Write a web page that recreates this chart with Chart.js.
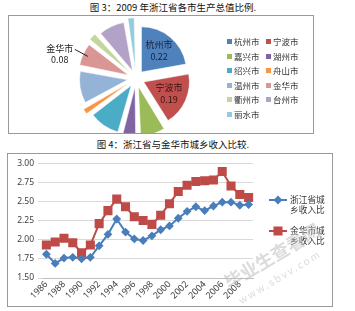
<!DOCTYPE html>
<html>
<head>
<meta charset="utf-8">
<script src="https://cdn.jsdelivr.net/npm/chart.js@4.4.0/dist/chart.umd.min.js"></script>
<style>
  body { margin: 0; background: #fff; font-family: "Noto Sans CJK SC", sans-serif; }
  #page { position: relative; width: 355px; height: 311px; overflow: hidden; }
  .title { position: absolute; left: 0; width: 346px; text-align: center; font-size: 9.5px; color: #111; line-height: 12px; }
  .box { position: absolute; border: 1px solid #9a9a9a; box-sizing: border-box; }
  canvas { position: absolute; }
  #pieLegend { position: absolute; left: 227px; top: 35px; width: 90px; display: grid; grid-template-columns: 39px 39px; grid-auto-rows: 14.6px; font-size: 8.5px; color: #333; }
  #pieLegend span.sw { display: inline-block; width: 5px; height: 5px; margin-right: 2px; vertical-align: 1px; }
  .lineLeg { position: absolute; left: 268px; font-size: 8.7px; color: #333; line-height: 10px; }
  .lineLeg .txt { position: absolute; left: 22px; top: 0; white-space: nowrap; }
  .lineLeg canvas { position: relative; }
  .wm { position: absolute; color: rgba(190,190,190,0.55); white-space: nowrap; transform-origin: left bottom; }
</style>
</head>
<body>
<div id="page">
  <div class="title" style="top:1px">图 3：2009 年浙江省各市生产总值比例.</div>
  <div class="box" style="left:8px;top:15px;width:306px;height:119px"></div>
  <canvas id="pieChart" width="304" height="117" style="left:9px;top:16px"></canvas>
  <div id="pieLegend"></div>

  <div class="title" style="top:138px">图 4：浙江省与金华市城乡收入比较.</div>
  <div class="box" style="left:7px;top:153px;width:326px;height:154px"></div>
  <canvas id="lineChart" width="324" height="152" style="left:8px;top:154px"></canvas>
  <div id="lineLegend"></div>

  <div class="wm" style="left:232px;top:268px;font-size:18px;font-weight:bold;transform:rotate(-31deg)">毕业生查看网</div>
  <div class="wm" style="left:243px;top:292px;font-size:10px;letter-spacing:2px;transform:rotate(-31deg)">www.sbvv.com</div>
</div>
<script>
// Figure 3 data
const cities = ["杭州市", "宁波市", "嘉兴市", "湖州市", "绍兴市", "舟山市", "温州市", "金华市", "衢州市", "台州市", "丽水市"];
const shares = [0.222, 0.189, 0.084, 0.048, 0.104, 0.023, 0.110, 0.077, 0.029, 0.088, 0.026];
const cityColors = ["#4F81BD", "#C0504D", "#9BBB59", "#8064A2", "#4BACC6", "#F79646", "#95B3D7", "#D99694", "#C3D69B", "#B3A2C7", "#93CDDD"];

// Figure 4 data
const years = ["1986", "1987", "1988", "1989", "1990", "1991", "1992", "1993", "1994", "1995", "1996", "1997",
  "1998", "1999", "2000", "2001", "2002", "2003", "2004", "2005", "2006", "2007", "2008", "2009"];
const zhejiangRatio = [1.81, 1.69, 1.76, 1.77, 1.75, 1.77, 1.92, 2.07, 2.27, 2.10, 2.01, 1.99,
  2.05, 2.13, 2.18, 2.28, 2.37, 2.43, 2.38, 2.44, 2.49, 2.49, 2.45, 2.46];
const jinhuaRatio = [1.93, 1.97, 2.02, 1.96, 1.83, 1.93, 2.21, 2.38, 2.53, 2.43, 2.30, 2.25,
  2.20, 2.32, 2.47, 2.63, 2.71, 2.76, 2.77, 2.78, 2.89, 2.70, 2.59, 2.55];
const seriesNames = ["浙江省城乡收入比", "金华市城乡收入比"];
const yTicks = [1.5, 3.0, 0.25]; // min, max, step

const cjk = '"Noto Sans CJK SC", sans-serif';

// labels drawn on the pie: [index, inside?]
const pieLabelSpots = [[0, true], [1, true], [7, false]];

const pieLabels = {
  id: "pieLabels",
  afterDatasetsDraw(chart) {
    const ctx = chart.ctx;
    const arcs = chart.getDatasetMeta(0).data;
    ctx.save();
    ctx.font = "9px " + cjk;
    ctx.textAlign = "center";
    ctx.textBaseline = "middle";
    pieLabelSpots.forEach(([i, inside]) => {
      const a = arcs[i];
      const mid = (a.startAngle + a.endAngle) / 2;
      const cos = Math.cos(mid), sin = Math.sin(mid);
      const txt = shares[i].toFixed(2);
      if (inside) {
        const r = a.outerRadius * 0.8;
        const x = a.x + cos * r, y = a.y + sin * r;
        ctx.fillStyle = i === 0 ? "#14233d" : "#3a1211";
        ctx.fillText(cities[i], x, y - 6);
        ctx.fillText(txt, x, y + 6);
      } else {
        const r0 = a.outerRadius + 8;
        const x0 = a.x + cos * r0, y0 = a.y + sin * r0;
        const x1 = x0 - 13, y1 = y0 - 7;
        ctx.strokeStyle = "#222";
        ctx.lineWidth = 1;
        ctx.beginPath();
        ctx.moveTo(x0, y0);
        ctx.lineTo(x1, y1);
        ctx.stroke();
        ctx.fillStyle = "#222";
        ctx.fillText(cities[i], x1 - 15, y1 - 1);
        ctx.fillText(txt, x1 - 15, y1 + 10);
      }
    });
    ctx.restore();
  }
};

new Chart(document.getElementById("pieChart"), {
  type: "pie",
  data: {
    labels: cities,
    datasets: [{
      data: shares,
      backgroundColor: cityColors,
      borderColor: "#ffffff",
      borderWidth: 0.5,
      offset: 34,
      radius: 45
    }]
  },
  options: {
    responsive: false,
    animation: false,
    layout: { padding: { top: 8, bottom: 0, left: 38, right: 88 } },
    plugins: { legend: { display: false }, tooltip: { enabled: false } }
  },
  plugins: [pieLabels]
});

// pie legend, row by row
const pieLegend = document.getElementById("pieLegend");
cities.forEach((c, i) => {
  const d = document.createElement("div");
  d.innerHTML = '<span class="sw" style="background:' + cityColors[i] + '"></span>' + c;
  pieLegend.appendChild(d);
});

const blue = "#4A7EBB", red = "#BE4B48";

new Chart(document.getElementById("lineChart"), {
  type: "line",
  data: {
    labels: years,
    datasets: [
      {
        label: seriesNames[0],
        data: zhejiangRatio,
        borderColor: blue,
        backgroundColor: blue,
        borderWidth: 2,
        pointStyle: "rectRot",
        pointRadius: 3,
        tension: 0
      },
      {
        label: seriesNames[1],
        data: jinhuaRatio,
        borderColor: red,
        backgroundColor: red,
        borderWidth: 2,
        pointStyle: "rect",
        pointRadius: 5,
        tension: 0
      }
    ]
  },
  options: {
    responsive: false,
    animation: false,
    layout: { padding: { top: 9, bottom: 0, left: 0, right: 79 } },
    plugins: { legend: { display: false }, tooltip: { enabled: false } },
    scales: {
      x: {
        offset: true,
        grid: { display: false },
        border: { color: "#bfbfbf" },
        ticks: {
          autoSkip: false,
          maxRotation: 45,
          minRotation: 45,
          padding: -7,
          color: "#404040",
          font: { size: 9, family: "'Noto Sans', sans-serif" },
          callback: (v, i) => (i % 2 === 0 ? years[i] : "")
        },
        afterFit: (s) => { s.height = 28; }
      },
      y: {
        min: yTicks[0],
        max: yTicks[1],
        grid: { color: "#d9d9d9", tickLength: 4 },
        border: { display: false },
        ticks: {
          stepSize: yTicks[2],
          padding: 4,
          color: "#404040",
          font: { size: 8.5, family: "'Noto Sans', sans-serif" },
          callback: (v) => v.toFixed(2)
        },
        afterFit: (s) => { s.width = 34; }
      }
    }
  }
});

// line legend with wrapped names
const lineLegend = document.getElementById("lineLegend");
[[blue, "rectRot", 195], [red, "rect", 226]].forEach(([col, shape, top], i) => {
  const wrap = document.createElement("div");
  wrap.className = "lineLeg";
  wrap.style.top = top + "px";
  const cv = document.createElement("canvas");
  cv.width = 20; cv.height = 10;
  const c = cv.getContext("2d");
  c.strokeStyle = col; c.lineWidth = 2;
  c.beginPath(); c.moveTo(1, 5); c.lineTo(19, 5); c.stroke();
  Chart.helpers.drawPoint(c, { pointStyle: shape, radius: shape === "rect" ? 5 : 3, borderWidth: 1 }, 10, 5);
  c.fillStyle = col;
  c.fill();
  wrap.appendChild(cv);
  const t = document.createElement("div");
  t.className = "txt";
  const name = seriesNames[i];
  t.innerHTML = name.slice(0, 4) + "<br>" + name.slice(4);
  wrap.appendChild(t);
  lineLegend.appendChild(wrap);
});
</script>
</body>
</html>
